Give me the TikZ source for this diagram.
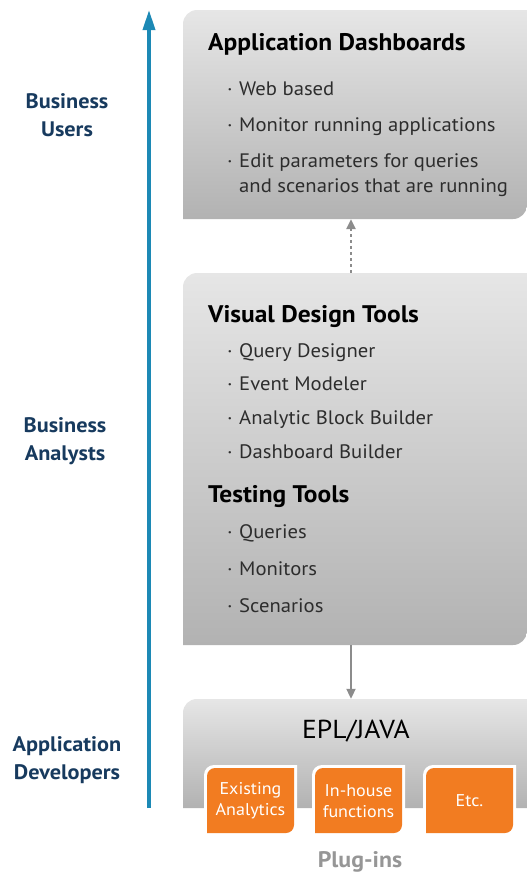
\documentclass[tikz,border=0pt]{standalone}
\usepackage{fontspec}
\setmainfont[FakeStretch=1.06]{PT Sans}
\usetikzlibrary{arrows.meta}
\definecolor{labelblue}{RGB}{23,58,94}
\definecolor{arrowblue}{RGB}{28,137,181}
\definecolor{plugorange}{RGB}{242,124,33}
\definecolor{boxtop}{RGB}{230,230,230}
\definecolor{boxbot}{RGB}{178,178,178}
\definecolor{bodytext}{RGB}{45,45,45}
\definecolor{connector}{RGB}{140,140,140}
\definecolor{plugtext}{RGB}{150,150,150}
\newcommand{\tlbrpath}[5]{(#1,#4) -- (#1,{#2+#5}) .. controls (#1,{#2+0.45*#5}) and ({#1+0.45*#5},#2) .. ({#1+#5},#2) -- (#3,#2) -- (#3,{#4-#5}) .. controls (#3,{#4-0.45*#5}) and ({#3-0.45*#5},#4) .. ({#3-#5},#4) -- cycle}
\tikzset{
  panel/.style={top color=boxtop, bottom color=boxbot},
  title/.style={anchor=base west, inner sep=0pt, font=\fontsize{24}{27}\selectfont\bfseries, text=black},
  bodyline/.style={anchor=base west, inner sep=0pt, font=\fontsize{19.5}{22}\selectfont, text=bodytext},
  dotmark/.style={anchor=base west, inner sep=0pt, font=\fontsize{19.5}{22}\selectfont, text=bodytext},
  rolelabel/.style={align=center, inner sep=0pt, font=\fontsize{21}{28}\selectfont\bfseries, text=labelblue},
  plugtxt/.style={align=center, inner sep=0pt, font=\fontsize{17}{21}\selectfont, text=white},
  boxref/.style={inner sep=0pt, draw=none},
}
\newcommand{\bitem}[3]{\node[dotmark] (#1b) at (227,#2) {·}; \node[bodyline] (#1) at (239,#2) {#3};}
\begin{document}
\begin{tikzpicture}[x=1pt,y=-1pt]
\useasboundingbox (0,0) rectangle (527,873);
% panels
\shade[panel] \tlbrpath{183}{10}{527}{219}{14};
\shade[panel] \tlbrpath{183}{273}{527}{645}{14};
\shade[panel] (183,808) -- (183,713) .. controls (183,705) and (189,699) .. (197,699) -- (527,699) -- (527,808) -- cycle;
\node[boxref, minimum width=344pt, minimum height=209pt] (dash) at (355,114.5) {};
\node[boxref, minimum width=344pt, minimum height=372pt] (design) at (355,459) {};
\node[boxref, minimum width=344pt, minimum height=109pt] (epl) at (355,753.5) {};
% plug-in boxes
\foreach \a/\b in {207/294, 315/402, 426/513}{
  \fill[white] \tlbrpath{\a-3}{765}{\b+3}{836}{10};
  \fill[plugorange] \tlbrpath{\a}{768}{\b}{833}{8};
}
\node[plugtxt] (p1) at (250.5,801) {Existing\\Analytics};
\node[plugtxt] (p2) at (358.5,801) {In-house\\functions};
\node[plugtxt] (p3) at (469.5,801) {Etc.};
\node[inner sep=0pt, anchor=base, font=\fontsize{22.5}{25}\selectfont\bfseries, text=plugtext] (plugins) at (360,867) {Plug-ins};
\node[inner sep=0pt, anchor=base, font=\fontsize{26}{30}\selectfont, text=black] (epltxt) at (356,738) {EPL/JAVA};
% top panel text
\node[title] (t1) at (208,50) {Application Dashboards};
\bitem{a1}{95}{Web based}
\bitem{a2}{131}{Monitor running applications}
\bitem{a3}{167}{Edit parameters for queries}
\node[bodyline] (a3x) at (239,192) {and scenarios that are running};
% middle panel text
\node[title] (t2) at (208,322) {Visual Design Tools};
\bitem{v1}{357}{Query Designer}
\bitem{v2}{390}{Event Modeler}
\bitem{v3}{424}{Analytic Block Builder}
\bitem{v4}{458}{Dashboard Builder}
\node[title] (t3) at (208,502) {Testing Tools};
\bitem{s1}{538}{Queries}
\bitem{s2}{575}{Monitors}
\bitem{s3}{612}{Scenarios}
% role labels
\node[rolelabel] (users) at (67,115) {Business\\Users};
\node[rolelabel] (analysts) at (65,441) {Business\\Analysts};
\node[rolelabel] (devs) at (67,760) {Application\\Developers};
% blue axis
\coordinate (axisbot) at (149,808);
\coordinate (axistop) at (149,10);
\draw[arrowblue, line width=3.5pt, -{Triangle[length=20pt,width=12pt]}] (axisbot) -- (axistop);
% connectors
\draw[connector, line width=2.5pt, dash pattern=on 3pt off 3pt, -{Triangle[length=10pt,width=9pt]}] ([xshift=-4pt]design.north) -- ([xshift=-4pt]dash.south);
\draw[connector, line width=2pt, -{Triangle[length=10pt,width=9pt]}] ([xshift=-4pt]design.south) -- ([xshift=-4pt]epl.north);
\end{tikzpicture}
\end{document}
